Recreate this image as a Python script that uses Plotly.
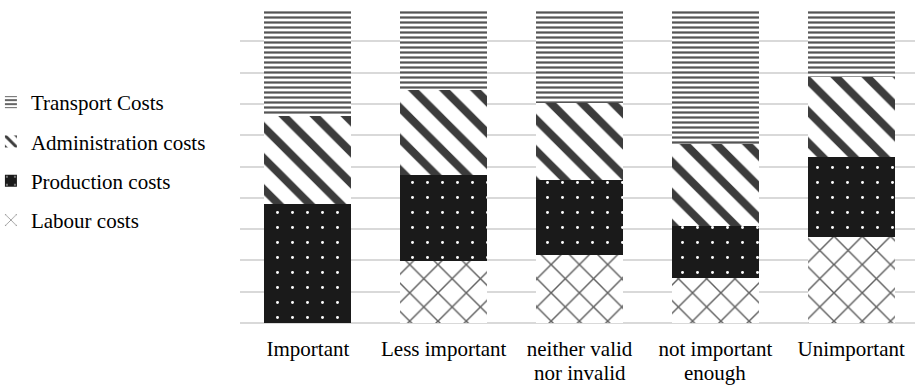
import plotly.graph_objects as go

categories_line1 = ["Important", "Less important", "neither valid", "not important", "Unimportant"]
categories_line2 = ["", "", "nor invalid", "enough", ""]
labour = [0, 19.8, 21.7, 14.3, 27.5]
production = [37.9, 27.4, 23.9, 16.8, 25.5]
administration = [28.2, 27.3, 24.7, 26.1, 25.7]
transport = [33.9, 25.5, 29.7, 42.8, 21.3]

series = [
    ("Labour costs", labour, 4, dict(shape="x", fgcolor="#606060", bgcolor="white", size=20, solidity=0.14)),
    ("Production costs", production, 3, dict(shape=".", fgcolor="white", bgcolor="#1a1a1a", size=15, solidity=0.03)),
    ("Administration costs", administration, 2, dict(shape="\\", fgcolor="#3c3c3c", bgcolor="white", size=22, solidity=0.36)),
    ("Transport Costs", transport, 1, dict(shape="-", fgcolor="#555555", bgcolor="white", size=5, solidity=0.45)),
]

fig = go.Figure()
xs = list(range(len(categories_line1)))
for name, vals, rank, pat in series:
    fig.add_trace(go.Bar(
        x=xs, y=vals, name=name, width=0.64,
        legendgroup=name, legendrank=rank,
        marker=dict(color=pat["bgcolor"], line=dict(width=0),
                    pattern=dict(fillmode="replace", **pat)),
    ))

for x, t in zip(xs, categories_line2):
    if t:
        fig.add_annotation(x=x, xref="x", y=-50 / 313, yref="paper",
                           text=t, showarrow=False, yanchor="middle",
                           borderpad=0, font=dict(size=21))

xrange = [-0.5, 4.47]
fig.update_layout(
    width=915, height=385,
    barmode="stack",
    margin=dict(l=240, r=0, t=10, b=62, autoexpand=False),
    plot_bgcolor="white", paper_bgcolor="white",
    font=dict(family="Liberation Serif, Times New Roman, serif", size=21, color="black"),
    legend=dict(
        traceorder="grouped", tracegroupgap=9,
        x=-0.369, xanchor="left", y=1 - 72 / 313, yanchor="top",
        font=dict(size=21), bgcolor="rgba(0,0,0,0)",
    ),
    xaxis=dict(tickmode="array", tickvals=xs, ticktext=categories_line1,
               range=xrange, showgrid=False, ticks="",
               showline=False, tickfont=dict(size=21), ticklabelstandoff=11),
    yaxis=dict(range=[0, 100], dtick=10, showticklabels=False,
               gridcolor="#d9d9d9", gridwidth=1.5,
               zeroline=True, zerolinecolor="#d9d9d9", zerolinewidth=1.5),
)

fig.write_html("out.html", config={"displayModeBar": False},
               post_script="document.body.style.margin='0';document.body.style.overflow='hidden';")
